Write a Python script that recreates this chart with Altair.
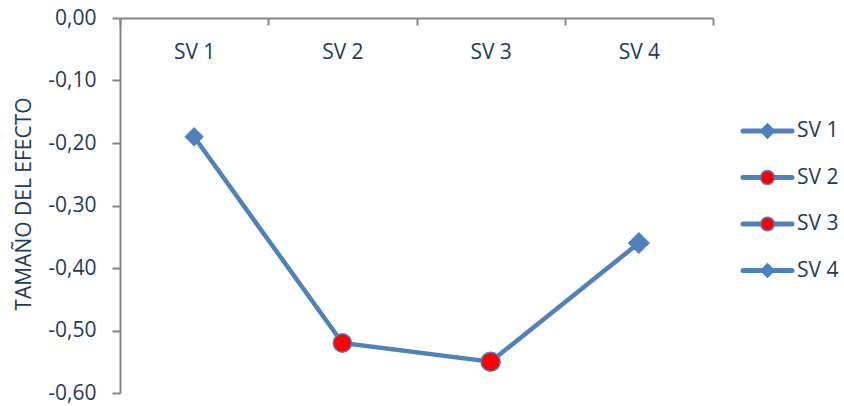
import altair as alt
import pandas as pd

# Effect size for each SV condition
series = ["SV 1", "SV 2", "SV 3", "SV 4"]
effect = [-0.19, -0.52, -0.55, -0.36]
marker_shapes = ["diamond", "circle", "circle", "diamond"]
marker_fills = ["#4F81BD", "#FF0000", "#FF0000", "#4F81BD"]
y_ticks = [0.0, -0.1, -0.2, -0.3, -0.4, -0.5, -0.6]

BLUE = "#4F81BD"
TEXT = "#1F3B5C"
GREY = "#868686"
FONT = "Open Sans"
W, H = 593, 375

df = pd.DataFrame({"sv": series, "effect": effect})
legend_df = pd.DataFrame({"sv": series})

x_enc = alt.X(
    "sv:N",
    sort=series,
    bandPosition=0.5,
    scale=alt.Scale(type="band", paddingInner=0, paddingOuter=0),
    axis=alt.Axis(
        orient="bottom", offset=-H, tickBand="extent", labelAngle=0,
        title=None, domainColor=GREY, domainWidth=2, tickColor=GREY,
        tickWidth=2, tickSize=7, labelPadding=16, labelFontSize=21,
        labelFont=FONT, labelColor=TEXT,
    ),
)

y_enc = alt.Y(
    "effect:Q",
    scale=alt.Scale(domain=[-0.6, 0], nice=False, zero=False),
    axis=alt.Axis(
        values=y_ticks, grid=False,
        labelExpr="replace(replace(format(datum.value, '.2f'), '.', ','), '\u2212', '-')",
        domainColor=GREY, domainWidth=2, tickColor=GREY, tickWidth=2,
        tickSize=8, labelPadding=16, labelFontSize=21, labelFont=FONT,
        labelColor=TEXT, title="TAMAÑO DEL EFECTO", titleFont=FONT,
        titleFontSize=21, titleFontWeight="normal", titleColor=TEXT,
        titleAngle=270, titleAlign="center", titleBaseline="middle",
        titleX=-96, titleY=H / 2 - 2,
    ),
)

shape_enc = alt.Shape("sv:N", scale=alt.Scale(domain=series, range=marker_shapes), legend=None)
fill_enc = alt.Fill("sv:N", scale=alt.Scale(domain=series, range=marker_fills), legend=None)

line = alt.Chart(df).mark_line(color=BLUE, strokeWidth=4.5).encode(x=x_enc, y=y_enc)

points = alt.Chart(df).mark_point(
    filled=True, opacity=1, stroke=BLUE, strokeWidth=1.5
).encode(
    x=x_enc,
    y=y_enc,
    shape=shape_enc,
    fill=fill_enc,
    size=alt.Size("sv:N", scale=alt.Scale(domain=series, range=[300, 400, 400, 300]), legend=None),
)

# Legend rows: a short line with the series marker, then its name
leg_row = alt.YOffset("sv:N", sort=series,
                      scale=alt.Scale(type="point", domain=series, range=[113, 252.5], padding=0))

leg_line = alt.Chart(legend_df).mark_rule(color=BLUE, strokeWidth=5, strokeCap="round").encode(
    x=alt.value(623), x2=alt.value(672), y=alt.value(0), yOffset=leg_row,
)
leg_mark = alt.Chart(legend_df).mark_point(
    filled=True, opacity=1, stroke=BLUE, strokeWidth=1.5
).encode(
    x=alt.value(647.5), y=alt.value(0), yOffset=leg_row,
    shape=shape_enc,
    fill=fill_enc,
    size=alt.Size("sv:N", scale=alt.Scale(domain=series, range=[200, 180, 180, 200]), legend=None),
)
leg_text = alt.Chart(legend_df).mark_text(
    align="left", baseline="middle", font=FONT, fontSize=21, color=TEXT
).encode(x=alt.value(677), y=alt.value(0), yOffset=leg_row, text="sv:N")

chart = (
    alt.layer(line, points, leg_line, leg_mark, leg_text)
    .resolve_scale(size="independent")
    .properties(
        width=W, height=H,
        background="white",
        autosize=alt.AutoSizeParams(type="none"),
        padding={"left": 120, "top": 18, "right": 131, "bottom": 13},
    )
    .configure_view(stroke=None)
)

chart.save("out.html", embed_options={"renderer": "svg", "actions": False})
